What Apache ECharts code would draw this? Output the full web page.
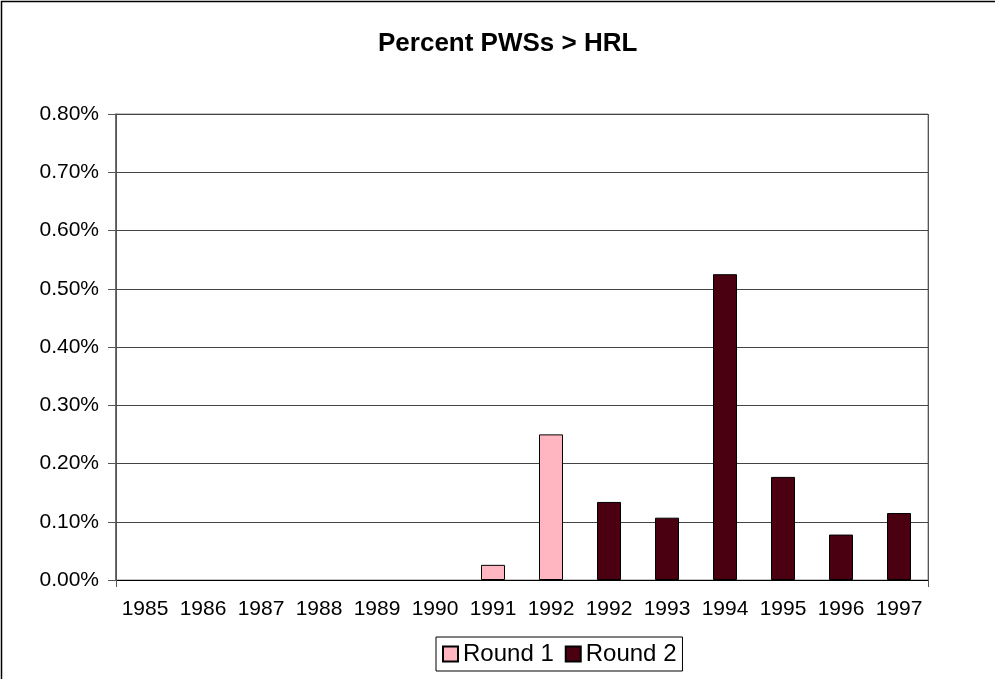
<!DOCTYPE html>
<html>
<head>
<meta charset="utf-8">
<script src="https://cdn.jsdelivr.net/npm/echarts@6/dist/echarts.min.js"></script>
<style>
  html, body { margin: 0; padding: 0; background: #fff; }
  #main { width: 995px; height: 679px; }
</style>
</head>
<body>
<div id="main"></div>
<script>
var years = ['1985', '1986', '1987', '1988', '1989', '1990', '1991', '1992', '1992', '1993', '1994', '1995', '1996', '1997'];
// percent of PWSs above HRL (no bar shown for 1985-1990)
var round1 = [null, null, null, null, null, null, 0.026, 0.25, null, null, null, null, null, null];
var round2 = [null, null, null, null, null, null, null, null, 0.134, 0.107, 0.525, 0.177, 0.078, 0.115];
var yTicks = { min: 0, max: 0.8, step: 0.1 };

var myChart = echarts.init(document.getElementById('main'));
var font = 'Arial, "Liberation Sans", sans-serif';

var option = {
    backgroundColor: '#fff',
    animation: false,
    textStyle: { fontFamily: font },
    title: {
        text: 'Percent PWSs > HRL',
        left: 373,
        top: 26,
        textStyle: { fontSize: 26, fontWeight: 'bold', color: '#000', fontFamily: font }
    },
    graphic: [{
        type: 'rect',
        shape: { x: 1.5, y: 1.5, width: 1100, height: 800 },
        style: { fill: 'none', stroke: '#000', lineWidth: 1.5 },
        silent: true
    }],
    grid: {
        left: 116, right: 67, top: 114, bottom: 99,
        show: true, borderColor: '#888', borderWidth: 1
    },
    legend: {
        left: 436,
        top: 637,
        itemGap: 11,
        itemWidth: 15,
        itemHeight: 15,
        itemTextGap: 5,
        padding: [5, 6, 5, 6],
        borderColor: '#000',
        borderWidth: 1,
        icon: 'rect',
        textStyle: { fontSize: 24, color: '#000', fontFamily: font },
        data: ['Round 1', 'Round 2']
    },
    xAxis: {
        type: 'category',
        data: years,
        axisLine: { lineStyle: { color: '#000', width: 1 } },
        axisTick: {
            show: true,
            length: 7,
            interval: function (i) { return i === 8; },
            lineStyle: { color: '#555' }
        },
        splitLine: {
            show: true,
            interval: function (i) { return i === 8; },
            lineStyle: { color: '#555', width: 1 }
        },
        axisLabel: { fontSize: 21, color: '#000', margin: 19, interval: 0, fontFamily: font }
    },
    yAxis: {
        type: 'value',
        min: yTicks.min,
        max: yTicks.max,
        interval: yTicks.step,
        axisLine: { show: true, lineStyle: { color: '#555', width: 1.5 } },
        axisTick: { show: true, length: 8, lineStyle: { color: '#555' } },
        splitLine: { lineStyle: { color: '#444', width: 1 } },
        axisLabel: {
            fontSize: 21, color: '#000', margin: 17, fontFamily: font,
            formatter: function (v) { return v.toFixed(2) + '%'; }
        }
    },
    series: [{
        name: 'Round 1',
        type: 'bar',
        stack: 'r',
        barWidth: 24,
        data: round1,
        itemStyle: { color: '#FFB6C1', borderColor: '#000', borderWidth: 1 }
    }, {
        name: 'Round 2',
        type: 'bar',
        stack: 'r',
        barWidth: 24,
        data: round2,
        itemStyle: { color: '#4A0010', borderColor: '#000', borderWidth: 1 }
    }]
};
myChart.setOption(option);
</script>
</body>
</html>
